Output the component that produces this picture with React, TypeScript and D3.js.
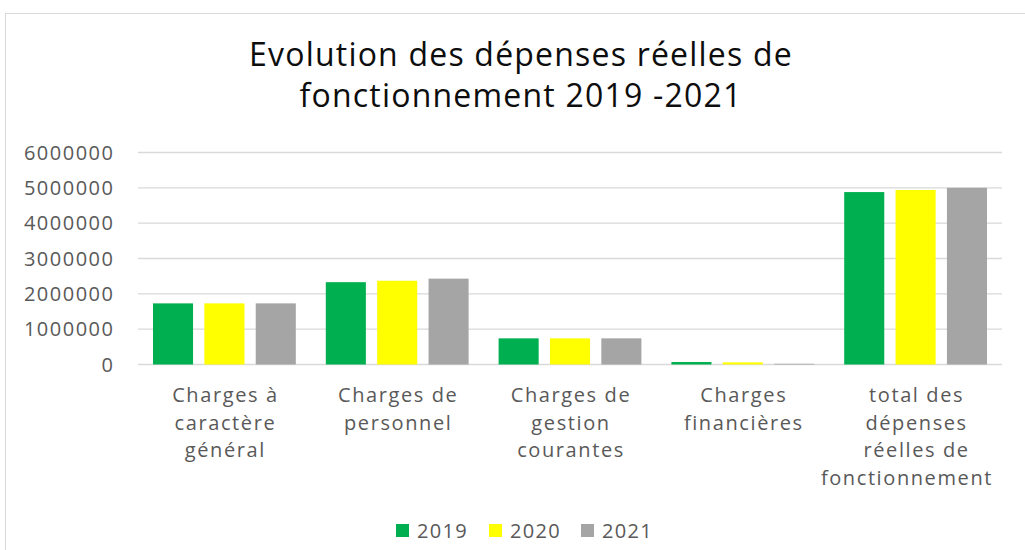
import { useEffect, useRef } from 'react';
import * as d3 from 'd3';

const categories = [
  ['Charges à', 'caractère', 'général'],
  ['Charges de', 'personnel'],
  ['Charges de', 'gestion', 'courantes'],
  ['Charges', 'financières'],
  ['total des', 'dépenses', 'réelles de', 'fonctionnement'],
];
const years = ['2019', '2020', '2021'];
const values2019 = [1730000, 2330000, 740000, 70000, 4880000];
const values2020 = [1730000, 2370000, 740000, 60000, 4940000];
const values2021 = [1730000, 2430000, 740000, 20000, 5000000];
const yTicks = [0, 1000000, 2000000, 3000000, 4000000, 5000000, 6000000];
const titleLines = ['Evolution des dépenses réelles de', 'fonctionnement 2019 -2021'];
const colors = ['#00b050', '#ffff00', '#a5a5a5'];

const W = 1025, H = 550;
const FONT = "'Open Sans', sans-serif";

export default function App() {
  const ref = useRef<SVGSVGElement>(null);

  useEffect(() => {
    const svg = d3.select(ref.current);
    svg.selectAll('*').remove();

    const series = [values2019, values2020, values2021];
    const names = categories.map(c => c.join(' '));

    // chart frame
    svg.append('rect')
      .attr('x', 5.5).attr('y', 13.5)
      .attr('width', W + 20).attr('height', H + 20)
      .attr('fill', '#fff').attr('stroke', '#d9d9d9');

    // title
    svg.append('text')
      .attr('text-anchor', 'middle')
      .attr('font-family', FONT)
      .attr('font-size', 32)
      .attr('letter-spacing', 1.2)
      .attr('fill', '#0d0d0d')
      .selectAll('tspan')
      .data(titleLines)
      .enter().append('tspan')
      .attr('x', 521).attr('y', (_, i) => 66 + i * 41)
      .text(d => d);

    const x0 = d3.scaleBand().domain(names).range([138, 1002]).padding(0);
    const x1 = d3.scaleBand().domain(years)
      .range([15, x0.bandwidth() - 15]).paddingInner(0.22).paddingOuter(0);
    const y = d3.scaleLinear().domain([0, 6000000]).range([364.5, 152.5]);

    // gridlines
    svg.append('g').selectAll('line')
      .data(yTicks)
      .enter().append('line')
      .attr('x1', 138).attr('x2', 1002)
      .attr('y1', d => y(d)).attr('y2', d => y(d))
      .attr('stroke', '#d9d9d9').attr('stroke-width', 1.3);

    // y tick labels
    svg.append('g').selectAll('text')
      .data(yTicks)
      .enter().append('text')
      .attr('x', 114.5).attr('y', d => y(d))
      .attr('dy', '0.35em')
      .attr('text-anchor', 'end')
      .attr('font-family', FONT).attr('font-size', 20)
      .attr('letter-spacing', 1.5)
      .attr('fill', '#595959')
      .text(d => String(d));

    // bars
    const groups = svg.append('g').selectAll('g')
      .data(names)
      .enter().append('g')
      .attr('transform', d => `translate(${x0(d)},0)`);
    groups.selectAll('rect')
      .data((d, i) => years.map((yr, j) => ({ yr, v: series[j][i], c: colors[j] })))
      .enter().append('rect')
      .attr('x', d => x1(d.yr)!)
      .attr('width', x1.bandwidth())
      .attr('y', d => y(d.v))
      .attr('height', d => y(0) - y(d.v))
      .attr('fill', d => d.c);

    // category labels (kept inside the chart frame on the right)
    const lab = svg.append('g').selectAll('text')
      .data(categories)
      .enter().append('text')
      .attr('text-anchor', 'middle')
      .attr('font-family', FONT).attr('font-size', 20)
      .attr('letter-spacing', 1.6)
      .attr('fill', '#595959');
    lab.each(function (lines, i) {
      const cx = x0(names[i])! + x0.bandwidth() / 2 + 1;
      d3.select(this).selectAll('tspan')
        .data(lines)
        .enter().append('tspan')
        .attr('x', cx)
        .attr('y', (_, k) => 402 + k * 27.6)
        .text(t => t)
        .each(function () {
          const w = (this as SVGTSpanElement).getComputedTextLength();
          const right = cx + w / 2;
          if (right > 993) d3.select(this).attr('x', cx - (right - 993));
        });
    });

    // legend
    const legendX = [396, 489, 581];
    const leg = svg.append('g').selectAll('g')
      .data(years)
      .enter().append('g')
      .attr('transform', (_, i) => `translate(${legendX[i]},0)`);
    leg.append('rect')
      .attr('x', 0).attr('y', 524)
      .attr('width', 13).attr('height', 13)
      .attr('fill', (_, i) => colors[i]);
    leg.append('text')
      .attr('x', 21).attr('y', 538)
      .attr('font-family', FONT).attr('font-size', 20)
      .attr('letter-spacing', 1.3)
      .attr('fill', '#595959')
      .text(d => d);
  }, []);

  return (
    <svg ref={ref} width={W} height={H}
      style={{ position: 'absolute', left: 0, top: 0, display: 'block', background: '#fff' }} />
  );
}
